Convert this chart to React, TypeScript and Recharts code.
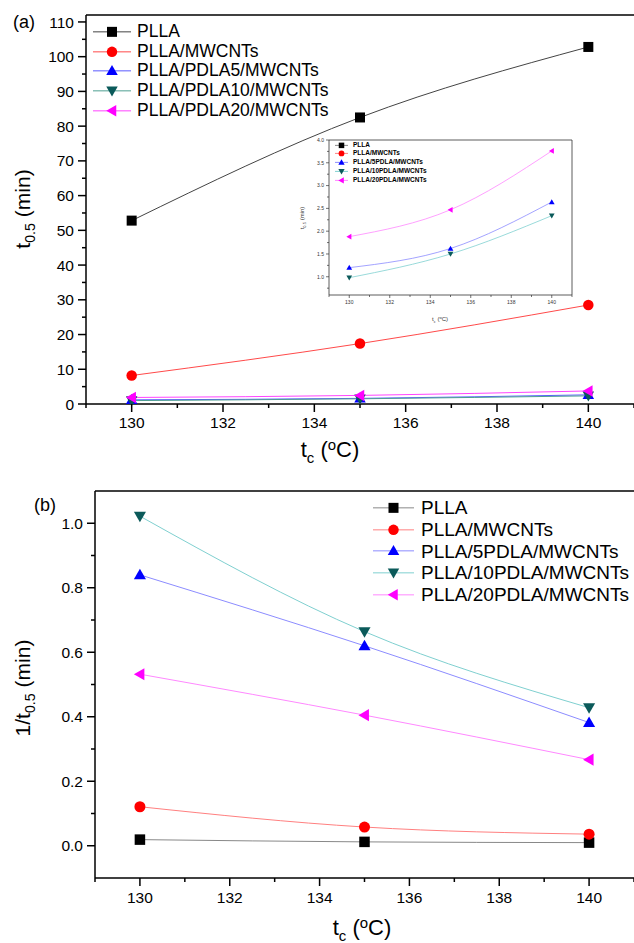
import React from "react";
import { LineChart, Line, XAxis, YAxis, ReferenceLine, Legend } from "recharts";

const FONT = '"Liberation Sans", Arial, Helvetica, sans-serif';

// crystallization temperature Tc (°C)
const tc = [130, 135, 140];

// half-time of crystallization t0.5 (min)
const t05Plla = [52.8, 82.5, 102.8];
const t05Mwcnt = [8.2, 17.4, 28.5];
const t05Pdla5 = [1.2, 1.62, 2.64];
const t05Pdla10 = [0.98, 1.5, 2.34];
const t05Pdla20 = [1.88, 2.47, 3.76];

// crystallization rate 1/t0.5 (min^-1)
const rPlla = [0.019, 0.012, 0.0097];
const rMwcnt = [0.121, 0.058, 0.036];
const rPdla5 = [0.84, 0.62, 0.382];
const rPdla10 = [1.022, 0.664, 0.428];
const rPdla20 = [0.532, 0.405, 0.267];

// axis ticks (majors get a label, the rest are minor ticks)
const xTicks = [129, 130, 131, 132, 133, 134, 135, 136, 137, 138, 139, 140, 141];
const yTicksA = [0, 5, 10, 15, 20, 25, 30, 35, 40, 45, 50, 55, 60, 65, 70, 75, 80, 85, 90, 95, 100, 105, 110];
const yTicksB = [0, 0.1, 0.2, 0.3, 0.4, 0.5, 0.6, 0.7, 0.8, 0.9, 1.0];
const yTicksInset = [0.75, 1.0, 1.25, 1.5, 1.75, 2.0, 2.25, 2.5, 2.75, 3.0, 3.25, 3.5, 3.75, 4.0];

const namesA = ["PLLA", "PLLA/MWCNTs", "PLLA/PDLA5/MWCNTs", "PLLA/PDLA10/MWCNTs", "PLLA/PDLA20/MWCNTs"];
const namesB = ["PLLA", "PLLA/MWCNTs", "PLLA/5PDLA/MWCNTs", "PLLA/10PDLA/MWCNTs", "PLLA/20PDLA/MWCNTs"];

type Shape = "square" | "circle" | "up" | "down" | "left";

const series: { key: string; shape: Shape; marker: string; line: string; light: string }[] = [
  { key: "plla", shape: "square", marker: "#000000", line: "#444444", light: "#888888" },
  { key: "mwcnt", shape: "circle", marker: "#ff0000", line: "#ff4a4a", light: "#ff8080" },
  { key: "pdla5", shape: "up", marker: "#0000ff", line: "#5a5aff", light: "#8c8cff" },
  { key: "pdla10", shape: "down", marker: "#0b5a5a", line: "#4e9f92", light: "#7fd0d0" },
  { key: "pdla20", shape: "left", marker: "#ff00ff", line: "#ff44ff", light: "#ff88ff" },
];

const dataA = tc.map((t, i) => ({
  tc: t,
  plla: t05Plla[i],
  mwcnt: t05Mwcnt[i],
  pdla5: t05Pdla5[i],
  pdla10: t05Pdla10[i],
  pdla20: t05Pdla20[i],
}));

const dataB = tc.map((t, i) => ({
  tc: t,
  plla: rPlla[i],
  mwcnt: rMwcnt[i],
  pdla5: rPdla5[i],
  pdla10: rPdla10[i],
  pdla20: rPdla20[i],
}));

function Marker({ cx, cy, shape, size, fill }: { cx: number; cy: number; shape: Shape; size: number; fill: string }) {
  const r = size / 2;
  const k = r * 1.15;
  switch (shape) {
    case "square":
      return <rect x={cx - r} y={cy - r} width={size} height={size} fill={fill} />;
    case "circle":
      return <circle cx={cx} cy={cy} r={r * 1.05} fill={fill} />;
    case "up":
      return <polygon points={`${cx},${cy - k} ${cx + k},${cy + r * 0.85} ${cx - k},${cy + r * 0.85}`} fill={fill} />;
    case "down":
      return <polygon points={`${cx},${cy + k} ${cx + k},${cy - r * 0.85} ${cx - k},${cy - r * 0.85}`} fill={fill} />;
    default:
      return <polygon points={`${cx - k},${cy} ${cx + r * 0.85},${cy - k} ${cx + r * 0.85},${cy + k}`} fill={fill} />;
  }
}

type TickOpts = {
  isMajor: (v: number) => boolean;
  fmt: (v: number) => string;
  fontSize: number;
  majorLen: number;
  minorLen: number;
  gap: number;
  color: string;
  width: number;
};

function LeftTick(props: any) {
  const { x, y, payload, opts } = props;
  const o: TickOpts = opts;
  const axisX = x + o.gap + o.majorLen;
  const major = o.isMajor(payload.value);
  const len = major ? o.majorLen : o.minorLen;
  return (
    <g>
      <line x1={axisX - len} x2={axisX} y1={y} y2={y} stroke={o.color} strokeWidth={o.width} />
      {major && (
        <text x={x} y={y} dy="0.36em" textAnchor="end" fontSize={o.fontSize} fontFamily={FONT} fill={o.color}>
          {o.fmt(payload.value)}
        </text>
      )}
    </g>
  );
}

function BottomTick(props: any) {
  const { x, y, payload, opts } = props;
  const o: TickOpts = opts;
  const axisY = y - o.gap - o.majorLen;
  const major = o.isMajor(payload.value);
  const len = major ? o.majorLen : o.minorLen;
  return (
    <g>
      <line x1={x} x2={x} y1={axisY} y2={axisY + len} stroke={o.color} strokeWidth={o.width} />
      {major && (
        <text x={x} y={y} dy="0.72em" textAnchor="middle" fontSize={o.fontSize} fontFamily={FONT} fill={o.color}>
          {o.fmt(payload.value)}
        </text>
      )}
    </g>
  );
}

function SeriesLegend({
  names,
  rowH,
  fontSize,
  sampleW,
  markerSize,
  gap,
  useLight,
  weight,
}: {
  names: string[];
  rowH: number;
  fontSize: number;
  sampleW: number;
  markerSize: number;
  gap: number;
  useLight: boolean;
  weight: number;
}) {
  return (
    <div style={{ fontFamily: FONT, fontSize, fontWeight: weight, color: "#000" }}>
      {series.map((s, i) => (
        <div key={s.key} style={{ display: "flex", alignItems: "center", height: rowH, whiteSpace: "nowrap" }}>
          <svg width={sampleW} height={rowH} style={{ flex: "none", marginRight: gap }}>
            <line x1={0} x2={sampleW} y1={rowH / 2} y2={rowH / 2} stroke={useLight ? s.light : s.line} strokeWidth={1} />
            <Marker cx={sampleW / 2} cy={rowH / 2} shape={s.shape} size={markerSize} fill={s.marker} />
          </svg>
          <span style={{ lineHeight: 1 }}>{names[i]}</span>
        </div>
      ))}
    </div>
  );
}

function Sub({ children }: { children: React.ReactNode }) {
  return <span style={{ fontSize: "0.68em", position: "relative", top: "0.38em" }}>{children}</span>;
}

function Sup({ children }: { children: React.ReactNode }) {
  return <span style={{ fontSize: "0.68em", position: "relative", top: "-0.5em" }}>{children}</span>;
}

const mainX: TickOpts = {
  isMajor: (v) => v % 2 === 0,
  fmt: (v) => String(v),
  fontSize: 15.5,
  majorLen: 8,
  minorLen: 4,
  gap: 5,
  color: "#000",
  width: 1.5,
};

const mainYA: TickOpts = {
  isMajor: (v) => v % 10 === 0,
  fmt: (v) => String(v),
  fontSize: 15.5,
  majorLen: 8,
  minorLen: 4,
  gap: 4,
  color: "#000",
  width: 1.5,
};

const mainYB: TickOpts = {
  isMajor: (v) => Math.round(v * 10) % 2 === 0,
  fmt: (v) => v.toFixed(1),
  fontSize: 15.5,
  majorLen: 8,
  minorLen: 4,
  gap: 4,
  color: "#000",
  width: 1.5,
};

const insetX: TickOpts = {
  isMajor: (v) => v % 2 === 0,
  fmt: (v) => String(v),
  fontSize: 5,
  majorLen: 3,
  minorLen: 2,
  gap: 2,
  color: "#333",
  width: 0.7,
};

const insetY: TickOpts = {
  isMajor: (v) => Math.round(v * 4) % 2 === 0,
  fmt: (v) => v.toFixed(1),
  fontSize: 5,
  majorLen: 3,
  minorLen: 2,
  gap: 2,
  color: "#333",
  width: 0.7,
};

function renderLines(markerSize: number, strokeWidth: number, light: boolean, keys?: string[]) {
  return series
    .filter((s) => !keys || keys.includes(s.key))
    .map((s) => (
      <Line
        key={s.key}
        dataKey={s.key}
        type="monotone"
        stroke={light ? s.light : s.line}
        strokeWidth={strokeWidth}
        dot={(p: any) => (
          <Marker key={`${s.key}-${p.index}`} cx={p.cx} cy={p.cy} shape={s.shape} size={markerSize} fill={s.marker} />
        )}
        activeDot={false}
        legendType="none"
        isAnimationActive={false}
      />
    ));
}

// legend is placed by hand; center/middle keeps it from reserving plot space
function FloatingLegend({ left, top, children }: { left: number; top: number; children: React.ReactElement }) {
  return (
    <Legend
      layout="horizontal"
      verticalAlign="middle"
      align="center"
      wrapperStyle={{ left, top, width: "auto", margin: 0 }}
      content={() => children}
    />
  );
}

function ChartA() {
  return (
    <LineChart width={634} height={460} data={dataA} margin={{ top: 15, right: 0, bottom: 0, left: 0 }}>
      <XAxis
        dataKey="tc"
        type="number"
        domain={[129, 141]}
        ticks={xTicks}
        interval={0}
        height={56}
        tickSize={mainX.majorLen}
        tickMargin={mainX.gap}
        tickLine={false}
        axisLine={{ stroke: "#000", strokeWidth: 1.5 }}
        tick={(p: any) => <BottomTick x={p.x} y={p.y} payload={p.payload} opts={mainX} />}
      />
      <YAxis
        type="number"
        domain={[0, 112]}
        ticks={yTicksA}
        interval={0}
        width={86}
        tickSize={mainYA.majorLen}
        tickMargin={mainYA.gap}
        tickLine={false}
        axisLine={{ stroke: "#000", strokeWidth: 1.5 }}
        tick={(p: any) => <LeftTick x={p.x} y={p.y} payload={p.payload} opts={mainYA} />}
      />
      <ReferenceLine y={112} stroke="#000" strokeWidth={1.5} />
      {renderLines(10, 1, false)}
      {FloatingLegend({
        left: 93,
        top: 22,
        children: (
          <SeriesLegend names={namesA} rowH={19.7} fontSize={17.5} sampleW={38} markerSize={10} gap={6} useLight={false} weight={400} />
        ),
      })}
    </LineChart>
  );
}

function InsetChart() {
  return (
    <LineChart width={290} height={200} data={dataA} margin={{ top: 10, right: 8, bottom: 0, left: 0 }}>
      <XAxis
        dataKey="tc"
        type="number"
        domain={[129, 141]}
        ticks={xTicks}
        interval={0}
        height={35}
        tickSize={insetX.majorLen}
        tickMargin={insetX.gap}
        tickLine={false}
        axisLine={{ stroke: "#333", strokeWidth: 0.8 }}
        tick={(p: any) => <BottomTick x={p.x} y={p.y} payload={p.payload} opts={insetX} />}
      />
      <YAxis
        type="number"
        domain={[0.6, 4.0]}
        ticks={yTicksInset}
        interval={0}
        width={39}
        allowDataOverflow
        tickSize={insetY.majorLen}
        tickMargin={insetY.gap}
        tickLine={false}
        axisLine={{ stroke: "#333", strokeWidth: 0.8 }}
        tick={(p: any) => <LeftTick x={p.x} y={p.y} payload={p.payload} opts={insetY} />}
      />
      <ReferenceLine y={4.0} stroke="#333" strokeWidth={0.8} />
      <ReferenceLine x={141} stroke="#333" strokeWidth={0.8} />
      {renderLines(5, 0.8, true, ["pdla5", "pdla10", "pdla20"])}
      {FloatingLegend({
        left: 45,
        top: 10.6,
        children: (
          <SeriesLegend names={namesB} rowH={8.75} fontSize={6.5} sampleW={13} markerSize={5.5} gap={5} useLight={true} weight={700} />
        ),
      })}
    </LineChart>
  );
}

function ChartB() {
  return (
    <LineChart width={634} height={483} data={dataB} margin={{ top: 31, right: 0, bottom: 0, left: 0 }}>
      <XAxis
        dataKey="tc"
        type="number"
        domain={[129, 141]}
        ticks={xTicks}
        interval={0}
        height={65}
        tickSize={mainX.majorLen}
        tickMargin={6}
        tickLine={false}
        axisLine={{ stroke: "#000", strokeWidth: 1.5 }}
        tick={(p: any) => <BottomTick x={p.x} y={p.y} payload={p.payload} opts={{ ...mainX, gap: 6 }} />}
      />
      <YAxis
        type="number"
        domain={[-0.1, 1.1]}
        ticks={yTicksB}
        interval={0}
        width={95}
        tickSize={mainYB.majorLen}
        tickMargin={mainYB.gap}
        tickLine={false}
        axisLine={{ stroke: "#000", strokeWidth: 1.5 }}
        tick={(p: any) => <LeftTick x={p.x} y={p.y} payload={p.payload} opts={mainYB} />}
      />
      <ReferenceLine y={1.1} stroke="#000" strokeWidth={1.5} />
      {renderLines(10.5, 1, true)}
      {FloatingLegend({
        left: 373,
        top: 37,
        children: (
          <SeriesLegend names={namesB} rowH={21.7} fontSize={19} sampleW={41} markerSize={10} gap={7} useLight={true} weight={400} />
        ),
      })}
    </LineChart>
  );
}

const abs = (left: number, top: number, size: number, rotate = false): React.CSSProperties => ({
  position: "absolute",
  left,
  top,
  fontSize: size,
  whiteSpace: "nowrap",
  lineHeight: 1,
  transform: `translate(-50%, -50%)${rotate ? " rotate(-90deg)" : ""}`,
});

export default function App() {
  return (
    <div
      style={{
        position: "absolute",
        left: 0,
        top: 0,
        width: 634,
        height: 943,
        background: "#fff",
        overflow: "hidden",
        fontFamily: FONT,
        color: "#000",
      }}
    >
      <div style={{ position: "absolute", left: 0, top: 0 }}>
        <ChartA />
      </div>
      <div style={{ position: "absolute", left: 290, top: 130 }}>
        <InsetChart />
      </div>
      <div style={{ position: "absolute", left: 0, top: 460 }}>
        <ChartB />
      </div>

      <div style={abs(24, 22, 18)}>(a)</div>
      <div style={abs(45, 505, 18)}>(b)</div>

      <div style={abs(22, 209, 21, true)}>
        t<Sub>0.5</Sub> (min)
      </div>
      <div style={abs(330, 450, 22)}>
        t<Sub>c</Sub> (<Sup>o</Sup>C)
      </div>

      <div style={abs(22, 688, 21, true)}>
        1/t<Sub>0.5</Sub> (min)
      </div>
      <div style={abs(362, 928, 22)}>
        t<Sub>c</Sub> (<Sup>o</Sup>C)
      </div>

      <div style={{ ...abs(302, 218, 6, true), color: "#333" }}>
        t<Sub>0.5</Sub> (min)
      </div>
      <div style={{ ...abs(440, 319, 6), color: "#333" }}>
        t<Sub>c</Sub> (<Sup>o</Sup>C)
      </div>
    </div>
  );
}
